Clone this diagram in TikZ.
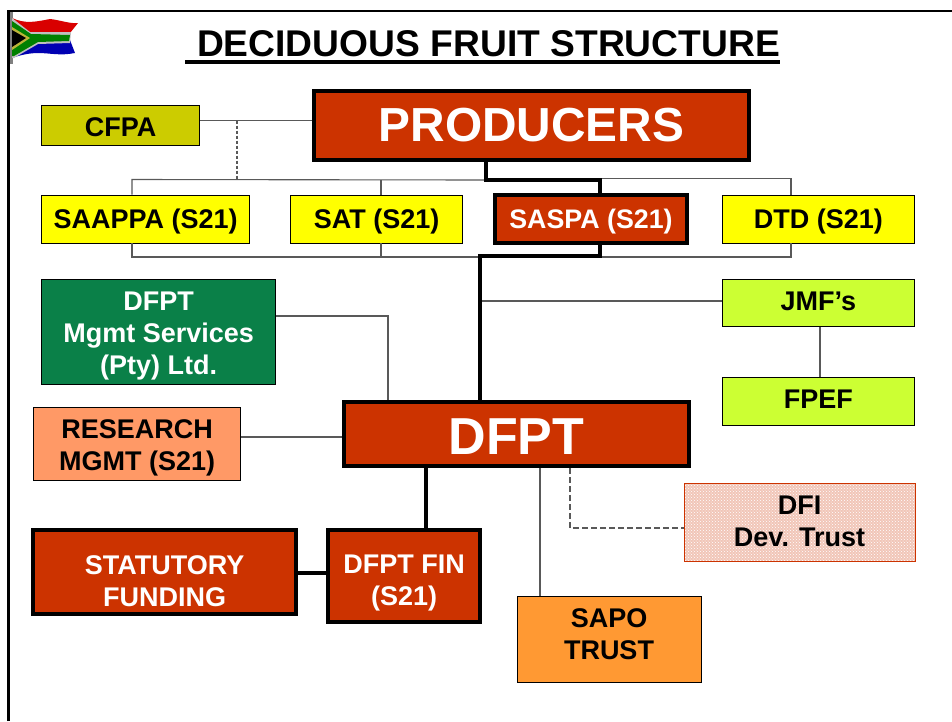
\documentclass[tikz,border=0pt]{standalone}
\usepackage{fontspec}
\setmainfont{Liberation Sans}
\usetikzlibrary{positioning,patterns}
\definecolor{brick}{HTML}{CC3300}
\definecolor{olivebox}{HTML}{CCCC00}
\definecolor{limebox}{HTML}{CCFF33}
\definecolor{greenbox}{HTML}{0A8048}
\definecolor{salmonbox}{HTML}{FF9966}
\definecolor{orangebox}{HTML}{FF9933}
\definecolor{lemon}{HTML}{FFFF00}
\definecolor{paper}{HTML}{FFFFFF}
\begin{document}
\begin{tikzpicture}[x=1pt,y=-1pt]
	\tikzstyle{main}=[rectangle, draw=black, line width=0.9pt, align=center, inner sep=0pt, font=\fontsize{27}{32}\selectfont\bfseries]
	\tikzstyle{heavy}=[main, line width=4pt, fill=brick, text=paper]
	\tikzstyle{yellowbox}=[main, fill=lemon, text depth=0pt, minimum width=192pt, minimum height=48pt]
	\tikzstyle{caption}=[inner sep=0pt, align=center, font=\fontsize{27}{32}\selectfont\bfseries]
	\tikzstyle{capwhite}=[caption, text=paper]
	\tikzstyle{link}=[line width=1.1pt, draw=black!65]
	\tikzstyle{trunk}=[line width=4.5pt, draw=black]
	\useasboundingbox (0,0) rectangle (952,721);
	\fill[paper] (0,0) rectangle (952,721);
	\node[heavy, minimum width=435pt, minimum height=69pt, font=\fontsize{47.8}{56}\selectfont\bfseries] (producers) at (531.5,125.5) {PRODUCERS};
	\node[inner sep=0pt, font=\fontsize{37.2}{44}\selectfont\bfseries] (title) at (488.5,43.5) {DECIDUOUS FRUIT STRUCTURE};
	\node[main, fill=olivebox, minimum width=158pt, minimum height=40pt, label={[caption, yshift=-2pt]center:CFPA}] (cfpa) [left=112pt of producers] {};
	\node[heavy, text depth=0pt, minimum width=192pt, minimum height=48pt, font=\fontsize{26.8}{30}\selectfont\bfseries] (saspa) [below=31pt of producers, xshift=59.5pt] {SASPA (S21)};
	\node[yellowbox, minimum width=172pt] (sat) [left=30pt of saspa] {SAT (S21)};
	\node[yellowbox, minimum width=208pt] (saappa) [left=40pt of sat] {SAAPPA (S21)};
	\node[yellowbox] (dtd) [right=33pt of saspa] {DTD (S21)};
	\node[main, fill=limebox, minimum width=192pt, minimum height=47pt, label={[caption, yshift=2pt]center:JMF’s}] (jmf) [below=35.5pt of dtd] {};
	\node[main, fill=limebox, minimum width=192pt, minimum height=48pt, label={[caption, yshift=2pt]center:FPEF}] (fpef) [below=50pt of jmf] {};
	\node[heavy, minimum width=345pt, minimum height=64pt, label={[capwhite, font=\fontsize{52}{58}\selectfont\bfseries, yshift=-3pt]center:DFPT}] (dfpt) [below=155pt of saspa, xshift=-74.5pt] {};
	\node[main, fill=greenbox, minimum width=234pt, minimum height=105pt, label={[capwhite, yshift=-4pt]center:DFPT\\Mgmt Services\\(Pty) Ltd.}] (mgmt) [below=35.5pt of saappa, xshift=13pt] {};
	\node[main, fill=salmonbox, minimum width=207pt, minimum height=73pt, label={[caption, yshift=-4pt]center:RESEARCH\\MGMT (S21)}] (research) [below=22pt of mgmt, xshift=-21.5pt] {};
	\node[heavy, minimum width=263pt, minimum height=84pt, label={[capwhite, yshift=-9pt]center:STATUTORY\\FUNDING}] (funding) [below=47pt of research, xshift=27.5pt] {};
	\node[heavy, minimum width=152pt, minimum height=92pt, label={[capwhite, yshift=-7pt]center:DFPT FIN\\(S21)}] (dfptfin) [right=28pt of funding, yshift=-4pt] {};
	\node[main, fill=orangebox, minimum width=184pt, minimum height=86pt, label={[caption, yshift=5.5pt]center:SAPO\\TRUST}] (sapo) [below=128pt of dfpt, xshift=92.5pt] {};
	\node[main, draw=brick, preaction={fill=brick!28}, pattern=crosshatch dots, pattern color=paper, minimum width=231pt, minimum height=78pt, label={[caption, yshift=1pt]center:DFI\\Dev. Trust}] (dfi) [below=15pt of dfpt, xshift=283pt] {};
	\coordinate (frametop) at (8.5,11);
	\coordinate (frameleft) at (8.5,721);
	\coordinate (frameright) at (952,11);
	\coordinate (ruleleft) at (185,62);
	\coordinate (ruleright) at (780,62);
	\coordinate (tap) at (237,120.5);
	\coordinate (topbus) at (132,179.5);
	\coordinate (satbus) at (381,179.5);
	\coordinate (dtdbus) at (791,178.5);
	\coordinate (lowbus) at (132,257);
	\coordinate (jog) at (486,180);
	\coordinate (saspatap) at (600,256);
	\coordinate (riser) at (480,256);
	\coordinate (jmftap) at (480,301);
	\coordinate (mgmtjoin) at (388,316);
	\coordinate (researchtap) at (300,437);
	\coordinate (fintap) at (426,500);
	\coordinate (sapotap) at (540,530);
	\coordinate (dfijoin) at (570,528);
	\coordinate (jmftie) at (820,350);
	\coordinate (fundtie) at (310,573);
	\draw[line width=2.5pt] (frameleft) -- (frametop) -- (frameright);
	\draw[line width=3.5pt] (ruleleft) -- (ruleright);
	% flag
	\fill[gray] (10,12) rectangle (12.5,64);
	\fill[blue!70!black] (12,40) -- (70,40) -- (75,53) .. controls (60,56) and (50,53) .. (38,53) .. controls (30,53) and (20,55) .. (12,58) -- cycle;
	\fill[red!85!black] (12,18) .. controls (25,24) and (35,22) .. (50,19) .. controls (60,20) and (70,24) .. (78,23) -- (70,33) -- (30,33) -- cycle;
	\fill[paper!75!black] (12,18) -- (30,32) -- (71,32) -- (70,43) -- (38,44) -- (14,58) -- (12,58) -- cycle;
	\fill[green!50!black] (12,21) -- (31,34) -- (70,35) -- (69,41) -- (38,42) -- (14,56) -- (12,56) -- cycle;
	\fill[yellow!70!black] (12,27) -- (30,38) -- (12,50) -- cycle;
	\fill[black] (12,30) -- (26,38) -- (12,47) -- cycle;
	% thin links
	\draw[link] (cfpa.east |- tap) -- (producers.west |- tap);
	\draw[link, dash pattern=on 3pt off 2pt] (tap) -- (tap |- topbus);
	\draw[link] (saappa.north -| topbus) -- (topbus) -- (jog);
	\draw[link] (sat.north -| satbus) -- (satbus);
	\draw[link] (saspatap |- dtdbus) -- (dtdbus) -- (dtd.north -| dtdbus);
	\draw[link] (saappa.south -| lowbus) -- (lowbus) -- (lowbus -| riser);
	\draw[link] (sat.south -| satbus) -- (satbus |- lowbus);
	\draw[link] (saspatap |- lowbus) -- (lowbus -| dtdbus) -- (dtd.south -| dtdbus);
	\draw[link] (jmftap) -- (jmf.west |- jmftap);
	\draw[link] (jmf.south -| jmftie) -- (fpef.north -| jmftie);
	\draw[link] (mgmt.east |- mgmtjoin) -- (mgmtjoin) -- (dfpt.north -| mgmtjoin);
	\draw[link] (research.east |- researchtap) -- (dfpt.west |- researchtap);
	\draw[link] (dfpt.south -| sapotap) -- (sapo.north -| sapotap);
	\draw[link, dash pattern=on 5.5pt off 3.5pt] (dfpt.south -| dfijoin) -- (dfijoin) -- (dfi.west |- dfijoin);
	% heavy links
	\draw[trunk] (producers.south -| jog) -- (jog) -- (jog -| saspatap) -- (saspa.north -| saspatap);
	\draw[trunk] (saspa.south -| saspatap) -- (saspatap) -- (riser) -- (dfpt.north -| riser);
	\draw[trunk] (dfpt.south -| fintap) -- (dfptfin.north -| fintap);
	\draw[trunk] (funding.east |- fundtie) -- (dfptfin.west |- fundtie);
	\end{tikzpicture}
\end{document}
